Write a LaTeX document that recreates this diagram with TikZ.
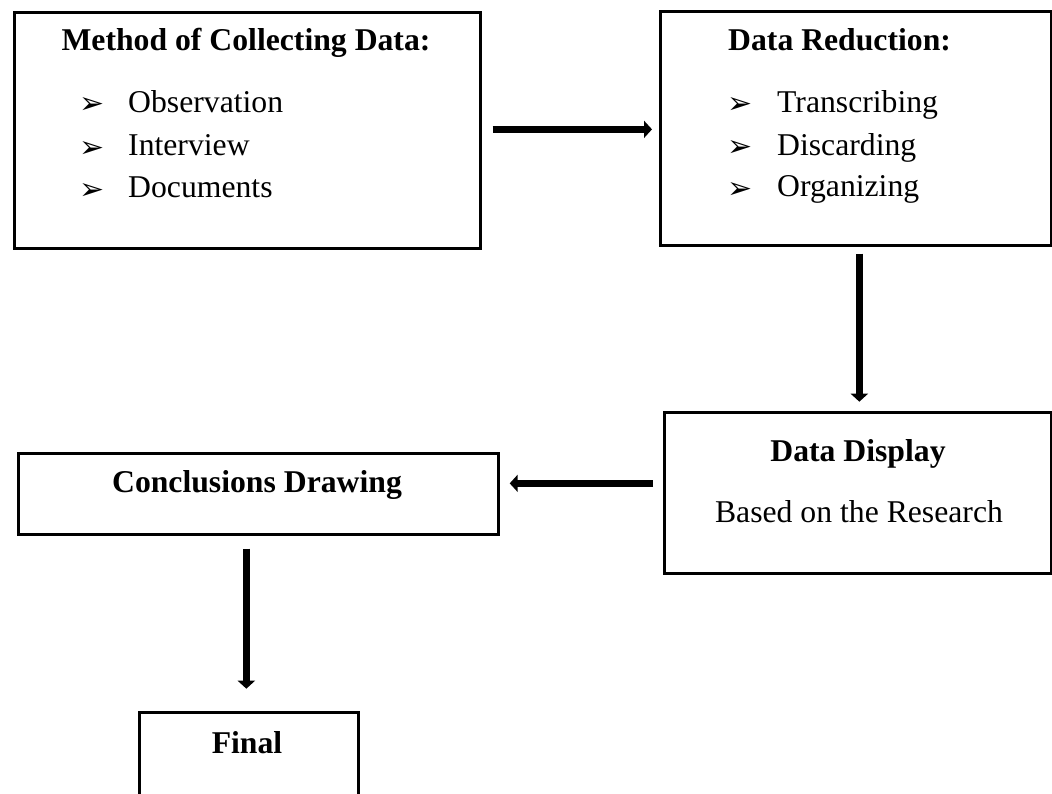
\documentclass[tikz,border=0pt]{standalone}
\usepackage{fontspec}
\setmainfont{Liberation Serif}
\newfontfamily\dejavu{DejaVu Sans}
\usetikzlibrary{arrows.meta,calc}
\tikzset{
  box/.style={draw=black, line width=2.7pt, rectangle, inner sep=0pt},
  arr/.style={line width=6.6pt, -{Triangle[length=8pt,width=17pt]}},
  txt/.style={inner sep=0pt, anchor=base, font=\fontsize{31.7pt}{38pt}\selectfont},
  hdr/.style={txt, font=\fontsize{31.7pt}{38pt}\selectfont\bfseries},
  itm/.style={txt, anchor=base west},
  bul/.style={inner sep=0pt, anchor=base west, font=\dejavu\fontsize{30pt}{36pt}\selectfont}
}
\begin{document}
\begin{tikzpicture}[x=1pt,y=-1pt]
\clip (0,0) rectangle (1052,793);
\fill[white] (0,0) rectangle (1052,793);
% boxes
\node[box, minimum width=466pt, minimum height=236pt, anchor=north west] (b1) at (13,11) {};
\node[box, minimum width=391pt, minimum height=234pt, anchor=north west] (b2) at (659,10) {};
\node[box, minimum width=387pt, minimum height=161pt, anchor=north west] (b3) at (663,411) {};
\node[box, minimum width=480pt, minimum height=81pt, anchor=north west] (b4) at (17,452) {};
\node[box, minimum width=219pt, minimum height=110pt, anchor=north west] (b5) at (138,711) {};
% box 1 text
\node[hdr] (t1) at (246,50) {Method of Collecting Data:};
\node[bul] (u11) at (79,113.5) {➢};
\node[bul] (u12) at (79,157.5) {➢};
\node[bul] (u13) at (79,199.5) {➢};
\node[itm] (i11) at (128,112) {Observation};
\node[itm] (i12) at (128,155) {Interview};
\node[itm] (i13) at (128,197) {Documents};
% box 2 text
\node[hdr, anchor=base west] (t2) at (728,50) {Data Reduction:};
\node[bul] (u21) at (727,113.5) {➢};
\node[bul] (u22) at (727,156.5) {➢};
\node[bul] (u23) at (727,198.5) {➢};
\node[itm] (i21) at (777,112) {Transcribing};
\node[itm] (i22) at (777,155) {Discarding};
\node[itm] (i23) at (777,196) {Organizing};
% box 3 text
\node[hdr] (t3) at (858,461) {Data Display};
\node[txt] (t3b) at (859,522) {Based on the Research};
% box 4 text
\node[hdr] (t4) at (257,492) {Conclusions Drawing};
% box 5 text
\node[hdr] (t5) at (247,753) {Final};
% arrows
\draw[arr] ($(b1.east)+(11,-1)$) -- ($(b2.west |- b1.east)+(-7,-1)$);
\draw[arr] ($(b2.south)+(3.5,7)$) -- ($(b2.south -| b3.north)+(1.5,0)+(0,155)$);
\draw[arr] ($(b3.west)+(-10,-9.5)$) -- ($(b4.east)+(10,-10.5)$);
\draw[arr] ($(b4.south)+(-12,13)$) -- ($(b4.south)+(-12,153)$);
\end{tikzpicture}
\end{document}
